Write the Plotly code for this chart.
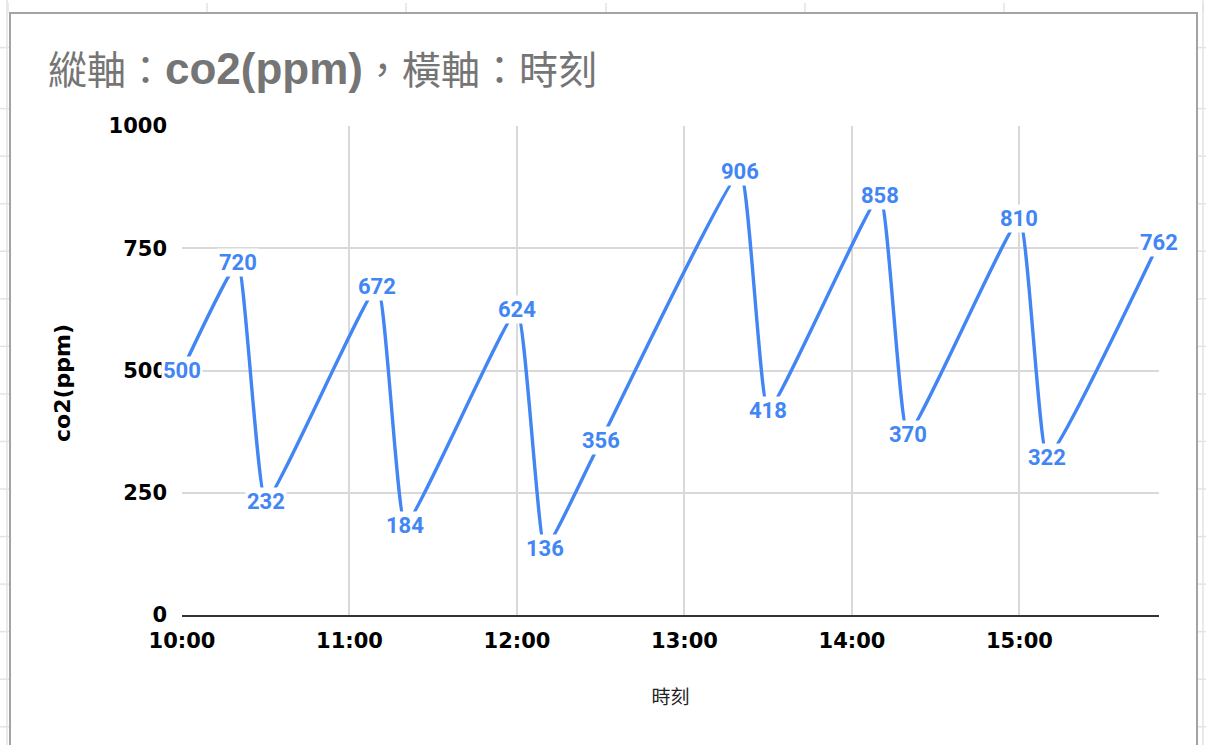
import plotly.graph_objects as go

# CO2 readings through the day
day = "2024-01-01"
times = ["10:00", "10:20", "10:30", "11:10", "11:20", "12:00", "12:10", "12:30",
         "13:20", "13:30", "14:10", "14:20", "15:00", "15:10", "15:50"]
co2_ppm = [500, 720, 232, 672, 184, 624, 136, 356, 906, 418, 858, 370, 810, 322, 762]
y_ticks = [0, 250, 500, 750, 1000]
x_ticks = ["10:00", "11:00", "12:00", "13:00", "14:00", "15:00"]

x_vals = [f"{day} {t}" for t in times]

W, H = 1206, 745
L, R, T, B = 182, 1159, 126, 615


def px(x):
    return (x - L) / (R - L)


def py(y):
    return (B - y) / (B - T)


BLUE = "#4285F4"
TICK_FONT = dict(family="DejaVu Sans", size=21, color="#000000", weight="bold")

fig = go.Figure()
fig.add_trace(go.Scatter(
    x=x_vals, y=co2_ppm, mode="lines",
    line=dict(color=BLUE, width=3.4, shape="spline", smoothing=0.35),
    hoverinfo="skip", showlegend=False,
))

# value labels sitting on the points, white box masks the line underneath
annotations = []
for xv, v in zip(x_vals, co2_ppm):
    annotations.append(dict(
        x=xv, y=v, xref="x", yref="y", text=str(v), showarrow=False,
        font=dict(family="Roboto", size=22, color=BLUE, weight="bold"),
        bgcolor="white", borderpad=1, xanchor="center", yanchor="middle",
    ))

# vertical axis title
annotations.append(dict(
    x=px(62), y=py(383), xref="paper", yref="paper", text="co2(ppm)",
    textangle=-90, showarrow=False, xanchor="center", yanchor="middle",
    font=dict(family="DejaVu Sans", size=22, color="#000000", weight="bold"),
))

# spreadsheet backdrop: cell lines and the chart frame
shapes = []
GRID = "#e3e3e3"
col_x = [8, 207, 406, 606, 805, 1004, 1203]
for cx in col_x:
    shapes.append(dict(type="line", xref="paper", yref="paper",
                       x0=px(cx), x1=px(cx), y0=py(3), y1=py(13),
                       line=dict(color=GRID, width=1.5)))
row_y = [47.6] + [108.6 + 47.55 * k for k in range(14)]
for ry in row_y:
    shapes.append(dict(type="line", xref="paper", yref="paper",
                       x0=px(0), x1=px(9), y0=py(ry), y1=py(ry),
                       line=dict(color=GRID, width=1.5)))
    shapes.append(dict(type="line", xref="paper", yref="paper",
                       x0=px(1197), x1=px(1206), y0=py(ry), y1=py(ry),
                       line=dict(color=GRID, width=1.5)))
shapes.append(dict(type="line", xref="paper", yref="paper",
                   x0=px(1203), x1=px(1203), y0=py(0), y1=py(760),
                   line=dict(color=GRID, width=1.5)))
shapes.append(dict(type="line", xref="paper", yref="paper",
                   x0=px(7), x1=px(7), y0=py(0), y1=py(760),
                   line=dict(color=GRID, width=1.5)))
shapes.append(dict(type="rect", xref="paper", yref="paper",
                   x0=px(10), x1=px(1197), y0=py(13), y1=py(770),
                   line=dict(color="#a3a3a3", width=2), fillcolor="rgba(0,0,0,0)"))

fig.update_layout(
    width=W, height=H,
    margin=dict(l=L, r=W - R, t=T, b=H - B, pad=0),
    paper_bgcolor="white", plot_bgcolor="white",
    title=dict(
        text="縱軸：<b><span style='font-family:Liberation Sans;font-size:44px'>co2(ppm)</span></b>，橫軸：時刻",
        font=dict(family="Noto Sans CJK TC", size=39, color="#757575"),
        x=48 / W, xanchor="left", xref="container",
        y=1 - 70 / H, yanchor="middle", yref="container",
    ),
    xaxis=dict(
        type="date", range=[f"{day} 10:00", f"{day} 15:50"],
        tickvals=[f"{day} {t}" for t in x_ticks], ticktext=x_ticks,
        showgrid=True, gridcolor="#d9d9d9", gridwidth=1.5,
        showline=True, linecolor="#333333", linewidth=2,
        ticks="", ticklabelstandoff=6,
        tickfont=TICK_FONT,
        title=dict(text="時刻", standoff=38,
                   font=dict(family="Noto Sans CJK TC", size=19, color="#222222")),
        zeroline=False, fixedrange=True,
    ),
    yaxis=dict(
        range=[0, 1000], tickvals=y_ticks,
        showgrid=True, gridcolor="#d9d9d9", gridwidth=1.5,
        showline=False, zeroline=False, ticks="", ticklabelstandoff=14,
        tickfont=TICK_FONT,
        fixedrange=True,
    ),
    annotations=annotations,
    shapes=shapes,
)

fig.write_html("out.html", config={"displayModeBar": False})
